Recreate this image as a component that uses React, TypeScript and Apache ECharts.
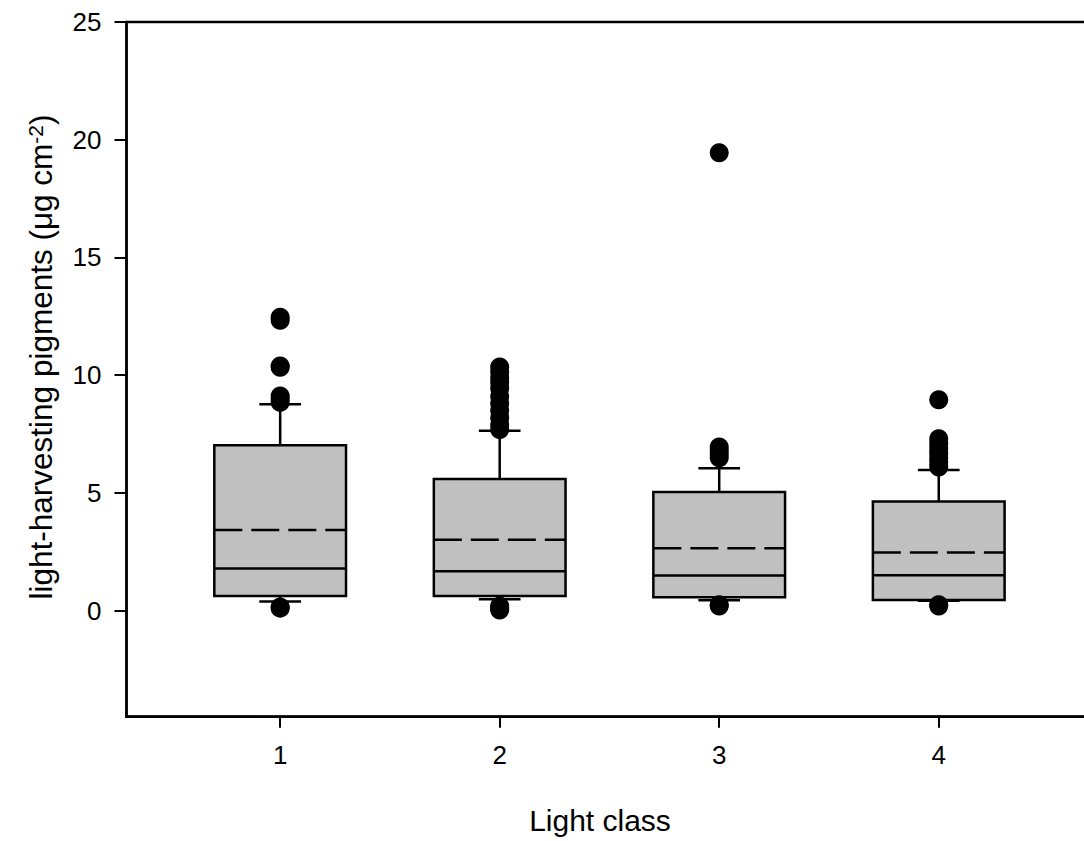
import React, { useEffect, useRef } from "react";
import * as echarts from "echarts";

// ---- data ----
const categories = ["1", "2", "3", "4"];
const classPositions = [1, 2, 3, 4];
const lowerWhisker = [0.39, 0.49, 0.45, 0.42];
const q1 = [0.63, 0.63, 0.57, 0.46];
const median = [1.79, 1.68, 1.5, 1.51];
const q3 = [7.03, 5.59, 5.04, 4.64];
const upperWhisker = [8.77, 7.64, 6.05, 5.98];
const mean = [3.43, 3.01, 2.65, 2.47];

const outliersClass1 = [12.46, 12.33, 10.39, 10.34, 9.12, 9.0, 8.85, 0.16, 0.11];
const outliersClass2 = [10.35, 10.15, 9.9, 9.7, 9.45, 9.1, 8.8, 8.5, 8.2, 7.9, 7.7, 0.2, 0.1, 0.03];
const outliersClass3 = [19.45, 6.95, 6.8, 6.65, 6.5, 0.25, 0.2];
const outliersClass4 = [8.96, 7.3, 7.1, 6.9, 6.7, 6.5, 6.3, 6.1, 0.25, 0.2];
const outliers = [outliersClass1, outliersClass2, outliersClass3, outliersClass4];

const yTicks = [0, 5, 10, 15, 20, 25];
const yTitle = "light-harvesting pigments (\u03bcg cm";
const xTitle = "Light class";

const FONT = "'Liberation Sans', Arial, Helvetica, sans-serif";

export default function App() {
  const ref = useRef<HTMLDivElement>(null);

  useEffect(() => {
    if (!ref.current) return;
    const chart = echarts.init(ref.current, null, { renderer: "svg" });

    const boxData = classPositions.map((x, i) => [
      x,
      lowerWhisker[i],
      q1[i],
      median[i],
      q3[i],
      upperWhisker[i],
      mean[i],
    ]);
    const outlierData: number[][] = [];
    outliers.forEach((vals, i) => vals.forEach((v) => outlierData.push([classPositions[i], v])));

    const stroke = { stroke: "#000", lineWidth: 2.5 };

    chart.setOption({
      animation: false,
      backgroundColor: "#fff",
      grid: {
        left: 126.5,
        top: 22,
        right: 7.6,
        bottom: 124.3,
        show: true,
        borderColor: "#000",
        borderWidth: 2.5,
        backgroundColor: "transparent",
      },
      xAxis: {
        type: "value",
        min: 0.3,
        max: 4.7,
        splitLine: { show: false },
        axisLine: { show: true, onZero: false, lineStyle: { color: "#000", width: 2.5 } },
        axisTick: { show: true, length: 11, customValues: classPositions, lineStyle: { color: "#000", width: 2 } },
        axisLabel: {
          customValues: classPositions,
          margin: 25,
          fontFamily: FONT,
          fontSize: 26,
          color: "#000",
          formatter: (v: number) => categories[classPositions.indexOf(Math.round(v))] ?? "",
        },
      },
      yAxis: {
        type: "value",
        min: -4.5,
        max: 25,
        splitLine: { show: false },
        axisLine: { show: true, onZero: false, lineStyle: { color: "#000", width: 2.5 } },
        axisTick: { show: true, length: 12, customValues: yTicks, lineStyle: { color: "#000", width: 2 } },
        axisLabel: {
          customValues: yTicks,
          margin: 25,
          fontFamily: FONT,
          fontSize: 26,
          color: "#000",
        },
      },
      graphic: [
        {
          type: "text",
          x: 41,
          y: 357,
          rotation: Math.PI / 2,
          style: {
            text: yTitle + "{sup|-2})",
            font: `31.5px ${FONT}`,
            fill: "#000",
            align: "center",
            verticalAlign: "middle",
            rich: {
              sup: { fontSize: 21, fontFamily: FONT, verticalAlign: "top", lineHeight: 32, padding: [0, 0, 12, 0] },
            },
          },
        },
        {
          type: "text",
          x: 600,
          y: 820,
          style: {
            text: xTitle,
            font: `30px ${FONT}`,
            fill: "#000",
            align: "center",
            verticalAlign: "middle",
          },
        },
      ],
      series: [
        {
          type: "custom",
          data: boxData,
          encode: { x: 0, y: [1, 2, 3, 4, 5, 6] },
          z: 2,
          renderItem: (params: any, api: any) => {
            const x = api.value(0);
            const lw = api.value(1);
            const a = api.value(2);
            const m = api.value(3);
            const b = api.value(4);
            const uw = api.value(5);
            const mn = api.value(6);
            const hw = 0.3;
            const cw = 0.095;
            const c = (xx: number, yy: number) => api.coord([xx, yy]);
            const seg = (p1: number[], p2: number[], style: any) => ({
              type: "line",
              shape: { x1: p1[0], y1: p1[1], x2: p2[0], y2: p2[1] },
              style,
            });
            const tl = c(x - hw, b);
            const br = c(x + hw, a);
            return {
              type: "group",
              children: [
                seg(c(x, b), c(x, uw), stroke),
                seg(c(x - cw, uw), c(x + cw, uw), stroke),
                seg(c(x, a), c(x, lw), stroke),
                seg(c(x - cw, lw), c(x + cw, lw), stroke),
                {
                  type: "rect",
                  shape: { x: tl[0], y: tl[1], width: br[0] - tl[0], height: br[1] - tl[1] },
                  style: { fill: "#c0c0c0", stroke: "#000", lineWidth: 2.5 },
                },
                seg(c(x - hw, m), c(x + hw, m), stroke),
                seg(c(x - hw, mn), c(x + hw, mn), { stroke: "#000", lineWidth: 2.5, lineDash: [28, 9] }),
              ],
            };
          },
        },
        {
          type: "scatter",
          data: outlierData,
          symbol: "circle",
          symbolSize: 19,
          itemStyle: { color: "#000", opacity: 1 },
          z: 3,
        },
      ],
    });

    return () => chart.dispose();
  }, []);

  return (
    <div style={{ position: "fixed", left: 0, top: 0, width: 1084, height: 841, overflow: "hidden", background: "#fff" }}>
      <div ref={ref} style={{ width: 1100, height: 841 }} />
    </div>
  );
}
